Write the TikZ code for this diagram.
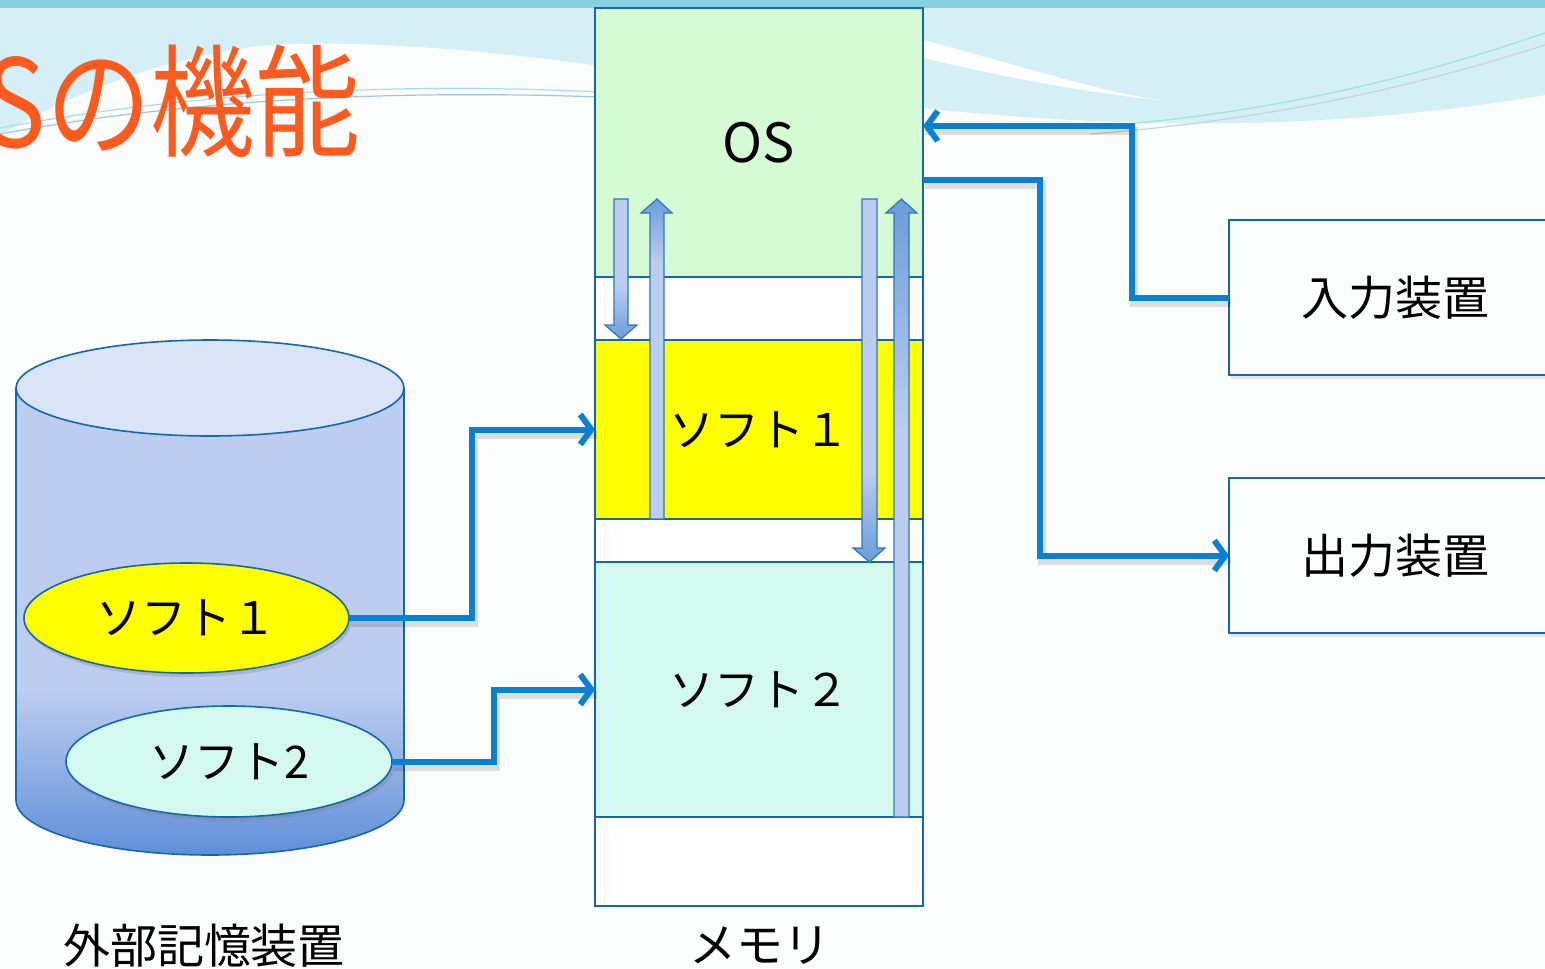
\documentclass[tikz,border=0pt]{standalone}
\usepackage{fontspec}
\setmainfont{Noto Sans CJK JP}
\usetikzlibrary{shapes.geometric,arrows.meta,shadows}
\definecolor{bordblue}{HTML}{1467AC}
\definecolor{connblue}{HTML}{0A80D2}
\definecolor{osgreen}{HTML}{D4FBD4}
\definecolor{softcyan}{HTML}{D3F9EF}
\definecolor{softyellow}{HTML}{FFFF00}
\definecolor{titleorange}{HTML}{FF5A1E}
\definecolor{bandblue}{HTML}{88CFE1}
\definecolor{skycyan}{HTML}{D5EFF6}
\definecolor{bgwhite}{HTML}{FBFCFC}
\definecolor{diskblue}{HTML}{BDCDEF}
\definecolor{disktop}{HTML}{D9E4F7}
\definecolor{diskdark}{HTML}{5C8DD8}
\definecolor{arrlight}{HTML}{BCCEF0}
\definecolor{arrdark}{HTML}{6A9BDB}
\definecolor{arrborder}{HTML}{2E78B8}
\definecolor{wavelineA}{HTML}{A8DCEB}
\definecolor{wavelineB}{HTML}{9FC4E6}
\definecolor{wavelineC}{HTML}{9EE3D6}
\definecolor{wavelineD}{HTML}{C9D2DA}
\tikzset{
  memsec/.style={draw=bordblue, line width=1.6pt, inner sep=0pt, outer sep=0pt,
    minimum width=328pt, anchor=north west, font=\fontsize{45}{50}\selectfont},
  devbox/.style={draw=bordblue, line width=1.6pt, fill=bgwhite, minimum width=332pt,
    minimum height=155pt, anchor=north west, inner sep=0pt, outer sep=0pt,
    font=\fontsize{47}{54}\selectfont,
    drop shadow={opacity=0.18, shadow xshift=2pt, shadow yshift=-4pt}},
  softell/.style={ellipse, draw=bordblue, line width=1.6pt, inner sep=0pt, outer sep=0pt,
    font=\fontsize{45}{50}\selectfont,
    drop shadow={opacity=0.3, shadow xshift=2pt, shadow yshift=-4pt}},
  conn/.style={draw=connblue, line width=6pt},
  connarrow/.style={conn, -{Straight Barb[length=11pt,width=30pt]}},
  connshadow/.style={draw=black, opacity=0.12, line width=8pt,
    transform canvas={shift={(2pt,-5pt)}}},
  caption/.style={font=\fontsize{47}{54}\selectfont, inner sep=0pt},
  blockarrow/.style={draw=arrborder, line width=1.2pt, line join=miter},
}
\begin{document}
\begin{tikzpicture}[x=1pt,y=-1pt]
\useasboundingbox (0,0) rectangle (1545,969);
\clip (0,0) rectangle (1545,969);
% background
\fill[bgwhite] (0,0) rectangle (1545,969);
\fill[skycyan] (0,8) -- (600,8) -- (600,66) .. controls (450,45) and (330,40) .. (260,46)
  .. controls (150,60) and (60,100) .. (0,135) -- cycle;
\fill[skycyan] (923,8) -- (1545,8) -- (1545,95) .. controls (1350,128) and (1150,132) .. (923,108) -- cycle;
\fill[white] (923,40) .. controls (1000,60) and (1100,92) .. (1160,100)
  .. controls (1080,92) and (1000,76) .. (923,58) -- cycle;
\fill[bandblue] (0,0) rectangle (1545,8);
\draw[wavelineA, line width=1.2pt] (0,128) .. controls (150,100) and (350,80) .. (600,92);
\draw[wavelineB, line width=1.2pt] (0,134) .. controls (150,106) and (350,88) .. (600,97);
\draw[wavelineC, line width=1.2pt] (1090,127) .. controls (1300,112) and (1450,65) .. (1545,33);
\draw[wavelineD, line width=1.2pt] (1090,134) .. controls (1300,118) and (1450,75) .. (1545,45);
% title
\node[anchor=east, inner sep=0pt, text=titleorange, xscale=0.86, transform shape,
  font=\fontsize{122}{130}\selectfont] (title) at (361,101) {OSの機能};

% external storage cylinder
\begin{scope}
  \clip (16,388) -- (16,800) arc[start angle=180, end angle=360, x radius=194pt, y radius=55pt] -- (404,388) -- cycle;
  \fill[diskblue] (0,380) rectangle (420,870);
  \shade[top color=diskblue, bottom color=diskdark] (0,690) rectangle (420,860);
\end{scope}
\draw[bordblue, line width=1.6pt] (16,388) -- (16,800) arc[start angle=180, end angle=360, x radius=194pt, y radius=55pt] -- (404,388);
\draw[bordblue, line width=1.6pt, fill=disktop] (210,388) ellipse [x radius=194pt, y radius=48pt];
\node[softell, fill=softyellow, minimum width=325pt, minimum height=110pt] (e1) at (186.5,618) {ソフト１};
\node[softell, fill=softcyan, minimum width=326pt, minimum height=111pt] (e2) at (229,761.5) {ソフト2};
\node[caption] (disklabel) at (204,946) {外部記憶装置};

% memory
\node[memsec, fill=osgreen, minimum height=269pt, font=\fontsize{54}{60}\selectfont] (os) at (595,8) {OS};
\node[memsec, fill=white, minimum height=63pt] (gapa) at (595,277) {};
\node[memsec, fill=softyellow, minimum height=179pt] (m1) at (595,340) {ソフト１};
\node[memsec, fill=white, minimum height=43pt] (gapb) at (595,519) {};
\node[memsec, fill=softcyan, minimum height=255pt] (m2) at (595,562) {ソフト２};
\node[memsec, fill=white, minimum height=89pt] (gapc) at (595,817) {};
\node[memsec, minimum height=898pt] (mem) at (595,8) {};
\node[caption] (memlabel) at (760,946) {メモリ};

% block arrows inside memory
% arrow A: OS -> soft1 (down)
\begin{scope}
  \clip (614,199) -- (628,199) -- (628,325) -- (637,325) -- (621,339) -- (605,325) -- (614,325) -- cycle;
  \fill[arrlight] (600,190) rectangle (645,345);
  \shade[top color=arrlight, bottom color=arrdark] (600,285) rectangle (645,340);
\end{scope}
\draw[blockarrow] (614,199) -- (628,199) -- (628,325) -- (637,325) -- (621,339) -- (605,325) -- (614,325) -- cycle;
% arrow B: soft1 -> OS (up)
\begin{scope}
  \clip (650,519) -- (650,213) -- (641,213) -- (657,199) -- (672,213) -- (664,213) -- (664,519) -- cycle;
  \fill[arrlight] (636,190) rectangle (680,525);
  \shade[top color=arrdark, bottom color=arrlight] (636,198) rectangle (680,262);
\end{scope}
\draw[blockarrow] (650,519) -- (650,213) -- (641,213) -- (657,199) -- (672,213) -- (664,213) -- (664,519) -- cycle;
% arrow C: OS -> soft2 (down)
\begin{scope}
  \clip (862,199) -- (877,199) -- (877,548) -- (885,548) -- (869.5,562) -- (853,548) -- (862,548) -- cycle;
  \fill[arrlight] (848,190) rectangle (890,570);
  \shade[top color=arrlight, bottom color=arrdark] (848,470) rectangle (890,563);
\end{scope}
\draw[blockarrow] (862,199) -- (877,199) -- (877,548) -- (885,548) -- (869.5,562) -- (853,548) -- (862,548) -- cycle;
% arrow D: soft2 -> OS (up)
\begin{scope}
  \clip (894,817) -- (894,213) -- (886,213) -- (901.5,199) -- (917,213) -- (909,213) -- (909,817) -- cycle;
  \fill[arrlight] (880,190) rectangle (922,822);
  \shade[top color=arrdark, bottom color=arrlight] (880,198) rectangle (922,430);
\end{scope}
\draw[blockarrow] (894,817) -- (894,213) -- (886,213) -- (901.5,199) -- (917,213) -- (909,213) -- (909,817) -- cycle;

% devices
\node[devbox] (in) at (1229,220) {入力装置};
\node[devbox] (out) at (1229,478) {出力装置};

% connectors
\coordinate (osin) at (os.east |- 0,126);
\coordinate (osout) at (os.east |- 0,180);
\draw[connshadow] (e1.east) -- ++(123,0) |- (m1.west);
\draw[connshadow] (e2.east) -- ++(102,0) |- (m2.west);
\draw[connshadow] (in.west) -- ++(-97,0) |- (osin);
\draw[connshadow] (osout) -- ++(117,0) |- (out.west);
\draw[connarrow] (e1.east) -- ++(123,0) |- (m1.west);
\draw[connarrow] (e2.east) -- ++(102,0) |- (m2.west);
\draw[connarrow] (in.west) -- ++(-97,0) |- (osin);
\draw[connarrow] (osout) -- ++(117,0) |- (out.west);
\end{tikzpicture}
\end{document}
